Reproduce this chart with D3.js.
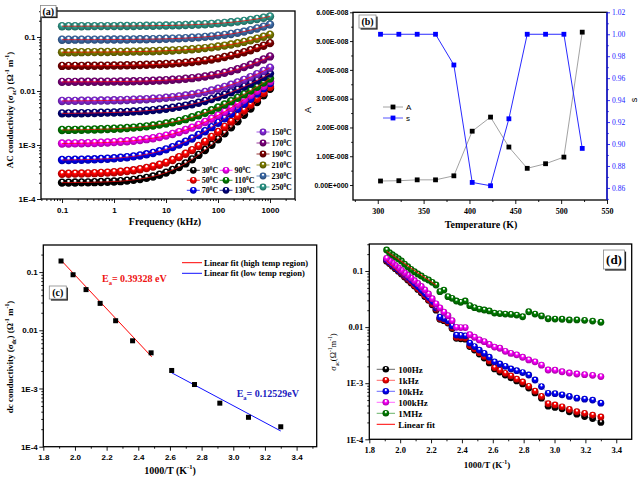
<!DOCTYPE html>
<html><head><meta charset="utf-8">
<script src="https://cdn.jsdelivr.net/npm/d3@7"></script>
<style>body{margin:0;background:#fff}svg{display:block}</style>
</head><body><svg id="c" width="640" height="480"></svg>
<script>
// ---------- Panel (a): AC conductivity vs frequency ----------
const freqKHz = [0.1,0.1334,0.1778,0.2371,0.3162,0.4217,0.5623,0.7499,1,1.334,1.778,2.371,3.162,4.217,5.623,7.499,10,13.34,17.78,23.71,31.62,42.17,56.23,74.99,100,133.4,177.8,237.1,316.2,421.7,562.3,749.9,1000];
const tempLabelsA = ["30","50","70","90","110","130","150","170","190","210","230","250"];
const sig30 = [2.01e-4,2.01e-4,2.02e-4,2.03e-4,2.03e-4,2.05e-4,2.06e-4,2.08e-4,2.11e-4,2.14e-4,2.19e-4,2.26e-4,2.34e-4,2.46e-4,2.61e-4,2.81e-4,3.08e-4,3.44e-4,3.92e-4,4.56e-4,5.42e-4,6.55e-4,8.07e-4,1.01e-3,1.28e-3,1.64e-3,2.12e-3,2.76e-3,3.62e-3,4.75e-3,6.27e-3,8.3e-3,1.10e-2];
const sig50 = [2.93e-4,2.94e-4,2.95e-4,2.96e-4,2.98e-4,3.01e-4,3.04e-4,3.08e-4,3.13e-4,3.20e-4,3.29e-4,3.40e-4,3.55e-4,3.74e-4,3.99e-4,4.31e-4,4.72e-4,5.26e-4,5.96e-4,6.87e-4,8.04e-4,9.56e-4,1.15e-3,1.41e-3,1.74e-3,2.17e-3,2.72e-3,3.44e-3,4.37e-3,5.58e-3,7.14e-3,9.17e-3,1.18e-2];
const sig70 = [5.27e-4,5.29e-4,5.32e-4,5.34e-4,5.38e-4,5.43e-4,5.49e-4,5.57e-4,5.67e-4,5.79e-4,5.95e-4,6.15e-4,6.41e-4,6.73e-4,7.13e-4,7.65e-4,8.30e-4,9.13e-4,1.02e-3,1.15e-3,1.32e-3,1.53e-3,1.80e-3,2.14e-3,2.57e-3,3.11e-3,3.80e-3,4.67e-3,5.78e-3,7.18e-3,8.95e-3,1.12e-2,1.40e-2];
const sig90 = [1.064e-3,1.067e-3,1.072e-3,1.077e-3,1.083e-3,1.091e-3,1.101e-3,1.113e-3,1.129e-3,1.148e-3,1.171e-3,1.200e-3,1.237e-3,1.282e-3,1.337e-3,1.407e-3,1.493e-3,1.599e-3,1.731e-3,1.895e-3,2.10e-3,2.35e-3,2.67e-3,3.06e-3,3.54e-3,4.14e-3,4.88e-3,5.81e-3,6.95e-3,8.38e-3,1.01e-2,1.23e-2,1.51e-2];
const sig110 = [1.896e-3,1.902e-3,1.909e-3,1.917e-3,1.928e-3,1.940e-3,1.956e-3,1.975e-3,1.998e-3,2.026e-3,2.060e-3,2.102e-3,2.153e-3,2.215e-3,2.291e-3,2.384e-3,2.50e-3,2.64e-3,2.80e-3,3.01e-3,3.26e-3,3.56e-3,3.94e-3,4.39e-3,4.95e-3,5.62e-3,6.45e-3,7.46e-3,8.68e-3,1.02e-2,1.20e-2,1.43e-2,1.70e-2];
const sig130 = [3.847e-3,3.857e-3,3.869e-3,3.883e-3,3.899e-3,3.919e-3,3.943e-3,3.972e-3,4.007e-3,4.049e-3,4.099e-3,4.160e-3,4.233e-3,4.320e-3,4.426e-3,4.552e-3,4.704e-3,4.89e-3,5.11e-3,5.37e-3,5.69e-3,6.07e-3,6.53e-3,7.07e-3,7.74e-3,8.54e-3,9.50e-3,1.064e-2,1.204e-2,1.37e-2,1.57e-2,1.81e-2,2.10e-2];
const sig150 = [6.547e-3,6.557e-3,6.569e-3,6.583e-3,6.60e-3,6.62e-3,6.65e-3,6.68e-3,6.72e-3,6.76e-3,6.81e-3,6.88e-3,6.96e-3,7.05e-3,7.17e-3,7.31e-3,7.48e-3,7.69e-3,7.93e-3,8.23e-3,8.60e-3,9.04e-3,9.57e-3,1.021e-2,1.098e-2,1.192e-2,1.306e-2,1.443e-2,1.609e-2,1.81e-2,2.05e-2,2.35e-2,2.70e-2];
const sig170 = [0.01475,0.01476,0.01477,0.01479,0.0148,0.01482,0.01486,0.01489,0.01493,0.01498,0.01504,0.01512,0.01522,0.01533,0.01548,0.01564,0.01586,0.01611,0.01641,0.01681,0.01728,0.01786,0.01857,0.01943,0.02049,0.02178,0.02336,0.02529,0.02765,0.03054,0.03408,0.03841,0.0437];
const sig190 = [0.02915,0.02917,0.02921,0.02925,0.0293,0.02936,0.02943,0.02952,0.02962,0.02974,0.02989,0.03006,0.03028,0.03053,0.03083,0.0312,0.03164,0.03216,0.03279,0.03354,0.03445,0.03553,0.03683,0.03838,0.04025,0.04249,0.04517,0.04838,0.05224,0.05686,0.0624,0.06904,0.077];
const sig210 = [0.05223,0.05227,0.05233,0.05239,0.05246,0.05255,0.05265,0.05277,0.05292,0.05309,0.0533,0.05354,0.05383,0.05418,0.05459,0.05508,0.05566,0.05635,0.05717,0.05814,0.0593,0.06068,0.06232,0.06426,0.06657,0.06932,0.07258,0.07646,0.08107,0.08655,0.09306,0.1008,0.110];
const sig230 = [0.08916,0.08919,0.08923,0.08928,0.08934,0.08941,0.0895,0.08961,0.08974,0.08991,0.09009,0.09033,0.09061,0.09096,0.09139,0.09191,0.09253,0.0933,0.09423,0.09536,0.09673,0.09841,0.1004,0.1029,0.1059,0.1095,0.114,0.1194,0.126,0.134,0.1438,0.1556,0.170];
const sig250 = [0.1583,0.1584,0.1584,0.1585,0.1587,0.1588,0.1589,0.1591,0.1593,0.1595,0.1598,0.1602,0.1606,0.1611,0.1617,0.1624,0.1632,0.1642,0.1653,0.1667,0.1683,0.1703,0.1726,0.1753,0.1786,0.1825,0.1871,0.1926,0.1991,0.2069,0.2161,0.227,0.240];
const seriesA = [sig30,sig50,sig70,sig90,sig110,sig130,sig150,sig170,sig190,sig210,sig230,sig250];
const colorsA = ["#000000","#ff0000","#0000ff","#ff00ff","#008000","#000080","#8a2be2","#800080","#800000","#808000","#4070b0","#30a090"];
const xTicksA = [0.1,1,10,100,1000];
const yTicksLog = [1e-4,1e-3,0.01,0.1];

// ---------- Panel (b): A and s vs temperature ----------
const tempB = [303,323,343,363,383,403,423,443,463,483,503,523];
const valA = [0.14e-8,0.15e-8,0.18e-8,0.18e-8,0.32e-8,1.87e-8,2.36e-8,1.32e-8,0.58e-8,0.74e-8,0.97e-8,5.31e-8];
const valS = [1.0,1.0,1.0,1.0,0.972,0.865,0.862,0.923,1.0,1.0,1.0,0.896];
const xTicksB = [300,350,400,450,500,550];
const yTicksBL = [0,1e-8,2e-8,3e-8,4e-8,5e-8,6e-8];
const yLabelsBL = ["0.00E+000","1.00E-008","2.00E-008","3.00E-008","4.00E-008","5.00E-008","6.00E-008"];
const yTicksBR = [0.86,0.88,0.90,0.92,0.94,0.96,0.98,1.00,1.02];

// ---------- Panel (c): dc conductivity vs 1000/T ----------
const invTc = [1.912,1.988,2.070,2.159,2.257,2.364,2.481,2.611,2.755,2.915,3.096,3.300];
const sigDC = [0.155,0.090,0.050,0.029,0.0146,0.0066,0.0041,0.00204,0.00117,0.00056,0.00032,0.00022];
const fitHighX = [1.912,2.485], fitHighY = [0.16,0.0035];
const fitLowX = [2.611,3.300], fitLowY = [0.00186,0.000186];
const xTicksCD = [1.8,2.0,2.2,2.4,2.6,2.8,3.0,3.2,3.4];

// ---------- Panel (d): sigma_ac vs 1000/T at fixed frequencies ----------
const tempD = [303,308,313,318,323,328,333,338,343,348,353,358,363,368,373,378,383,388,393,398,403,408,413,418,423,428,433,438,443,448,453,458,463,468,473,478,483,488,493,498,503,508,513,518,523];
const labelsD = ["100Hz","1kHz","10kHz","100kHz","1MHz"];
const s100Hz = [0.00020,0.000235,0.000255,0.00028,0.00031,0.00035,0.00037,0.00039,0.00054,0.00067,0.00082,0.00097,0.0011,0.00125,0.0014,0.00158,0.0018,0.0023,0.0028,0.0033,0.0039,0.0045,0.0061,0.0062,0.0063,0.0094,0.0118,0.0130,0.0138,0.020,0.025,0.030,0.035,0.041,0.047,0.054,0.061,0.069,0.078,0.088,0.099,0.110,0.122,0.136,0.150];
const s1kHz = [0.00025,0.00027,0.00029,0.00031,0.00034,0.00038,0.00041,0.00043,0.00058,0.00072,0.00088,0.00105,0.00118,0.00135,0.0015,0.0017,0.0019,0.0025,0.0030,0.0035,0.0041,0.0047,0.0064,0.0065,0.0066,0.0098,0.0122,0.0135,0.0142,0.021,0.026,0.031,0.037,0.043,0.049,0.056,0.064,0.072,0.081,0.091,0.102,0.114,0.126,0.140,0.155];
const s10kHz = [0.00044,0.00050,0.00052,0.00054,0.00058,0.00062,0.00065,0.00066,0.00087,0.00114,0.0014,0.00155,0.00167,0.0018,0.0020,0.0022,0.0024,0.0029,0.0034,0.0039,0.0045,0.0052,0.0070,0.0071,0.0072,0.0105,0.0130,0.0142,0.0150,0.022,0.028,0.033,0.039,0.045,0.052,0.059,0.067,0.075,0.084,0.094,0.105,0.118,0.130,0.145,0.160];
const s100kHz = [0.00131,0.00138,0.00142,0.00146,0.00152,0.0016,0.0017,0.00172,0.0021,0.0024,0.0026,0.0029,0.0032,0.0034,0.0037,0.0042,0.0044,0.0049,0.0055,0.0059,0.0066,0.0073,0.0098,0.0098,0.0099,0.0130,0.0160,0.0185,0.022,0.026,0.032,0.039,0.046,0.053,0.060,0.067,0.075,0.084,0.093,0.103,0.114,0.126,0.139,0.152,0.168];
const s1MHz = [0.0122,0.0128,0.0132,0.0134,0.0134,0.0138,0.0139,0.0141,0.0158,0.0171,0.0188,0.0153,0.0164,0.0168,0.0171,0.0174,0.0178,0.0194,0.0202,0.0210,0.0222,0.0241,0.0292,0.0277,0.0292,0.0326,0.0348,0.0458,0.0428,0.0563,0.0629,0.0692,0.0741,0.0815,0.0885,0.0973,0.107,0.119,0.133,0.151,0.166,0.180,0.195,0.212,0.237];
const seriesD = [s100Hz,s1kHz,s10kHz,s100kHz,s1MHz];
const colorsD = ["#000000","#ff0000","#0000ff","#ff00ff","#008000"];
const fitD1X = [1.912,2.232], fitD1Y = [0.225,0.056];
const fitD2X = [1.912,2.245], fitD2Y = [0.155,0.019];

// ================= drawing =================
const SERIF = "'Liberation Serif','Times New Roman',serif";
const SANS = "'Liberation Sans',Arial,sans-serif";
const svg = d3.select('#c');
svg.append('rect').attr('width',640).attr('height',480).attr('fill','#fff');
const defs = svg.append('defs');
function grad(color){
  const id = 'g' + color.replace('#','');
  if (defs.select('#'+id).empty()){
    const g = defs.append('radialGradient').attr('id',id).attr('cx','50%').attr('cy','50%').attr('r','52%').attr('fx','50%').attr('fy','24%');
    g.append('stop').attr('offset','0%').attr('stop-color','#ffffff');
    g.append('stop').attr('offset','16%').attr('stop-color','#ffffff').attr('stop-opacity',0.95);
    g.append('stop').attr('offset','42%').attr('stop-color',color);
    g.append('stop').attr('offset','100%').attr('stop-color',d3.color(color).darker(1.3).formatHex());
  }
  return 'url(#'+id+')';
}
function rich(sel, parts, fs){
  let shift = 0;
  parts.forEach(([t,k])=>{
    const target = k==='sub' ? fs*0.3 : (k==='sup' ? -fs*0.42 : 0);
    sel.append('tspan').text(t).attr('dy', target-shift).attr('font-size', k==='n'? fs : fs*0.65);
    shift = target;
  });
}
function title(x,y,parts,fs,opts={}){
  const t = svg.append('text').attr('x',x).attr('y',y).attr('text-anchor',opts.anchor||'middle')
    .attr('font-family',opts.font||SERIF).attr('font-weight',opts.weight||'bold').attr('fill',opts.color||'#000');
  if (opts.rotate) t.attr('transform',`rotate(-90,${x},${y})`);
  rich(t, parts, fs);
  return t;
}
function axis(gen, tr, font, fs, color){
  const a = svg.append('g').attr('transform',tr).call(gen);
  a.select('.domain').remove();
  a.attr('font-family',null).attr('font-size',null);
  a.selectAll('text').attr('font-family',font).attr('font-size',fs).attr('font-weight','bold').attr('fill',color||'#000');
  a.selectAll('line').attr('stroke',color||'#000').attr('stroke-width',0.9);
  return a;
}
function logMinor(domain){
  const out=[]; for(let e=-6;e<=4;e++){ for(let m=2;m<=9;m++){ const v=m*Math.pow(10,e); if(v>domain[0]&&v<domain[1]) out.push(v);} } return out;
}
const fmtLog = v => v>=0.01 ? (v>=0.1 ? "0.1" : "0.01") : ("1E" + Math.round(Math.log10(v)));
function frame(x0,y0,x1,y1){
  svg.append('rect').attr('x',x0).attr('y',y0).attr('width',x1-x0).attr('height',y1-y0).attr('fill','none').attr('stroke','#000').attr('stroke-width',1.3);
}
function plabel(x,y,w,h,text,fs){
  svg.append('rect').attr('x',x+1.6).attr('y',y+1.6).attr('width',w).attr('height',h).attr('fill','#222');
  svg.append('rect').attr('x',x).attr('y',y).attr('width',w).attr('height',h).attr('fill','#fff').attr('stroke','#888').attr('stroke-width',0.8);
  svg.append('text').attr('x',x+w/2).attr('y',y+h/2+fs*0.35).attr('text-anchor','middle').attr('font-family',SERIF).attr('font-weight','bold').attr('font-size',fs).text(text);
}
function sphere(g,x,y,r,color){
  g.append('circle').attr('cx',x).attr('cy',y).attr('r',r).attr('fill',grad(color));
}

// ----- Panel (a) -----
{
  const x = d3.scaleLog().domain([0.0394,3027]).range([41,295]);
  const y = d3.scaleLog().domain([1e-4,0.303]).range([199,11]);
  const g = svg.append('g');
  const line = d3.line().x(d=>x(d[0])).y(d=>y(d[1]));
  seriesA.forEach((s,i)=>{
    const pts = freqKHz.map((f,j)=>[f,s[j]]).filter(p=>p[1]!=null);
    const gs = g.append('g');
    gs.selectAll('circle').data(pts).join('circle').attr('cx',d=>x(d[0])).attr('cy',d=>y(d[1])).attr('r',4.2).attr('fill',grad(colorsA[i]));
    gs.append('path').attr('d',line(pts)).attr('fill','none').attr('stroke','#ff0000').attr('stroke-width',0.7);
  });
  axis(d3.axisBottom(x).tickValues(xTicksA).tickSize(4).tickPadding(4).tickFormat(d=>String(d)),'translate(0,199)',SANS,8);
  axis(d3.axisBottom(x).tickValues(logMinor(x.domain())).tickSize(2).tickFormat(''),'translate(0,199)',SANS,8);
  axis(d3.axisLeft(y).tickValues(yTicksLog).tickSize(4).tickPadding(1.5).tickFormat(fmtLog),'translate(41,0)',SANS,8);
  axis(d3.axisLeft(y).tickValues(logMinor(y.domain())).tickSize(2).tickFormat(''),'translate(41,0)',SANS,8);
  frame(41,11,295,199);
  title(165,225,[["Frequency (kHz)","n"]],10);
  title(13,110,[["AC conductivity (σ","n"],["ac","sub"],[") (Ω","n"],["-1","sup"],[" m","n"],["-1","sup"],[")","n"]],9,{rotate:true});
  // legend
  const lg = svg.append('g');
  const entries = tempLabelsA.map((t,i)=>{
    let lx, ly;
    if (i<3){ lx=193.3; ly=170.3+i*10; } else if (i<6){ lx=226; ly=170.3+(i-3)*10; } else { lx=263; ly=132+(i-6)*11; }
    return {t, lx, ly, c: colorsA[i]};
  });
  entries.forEach(e=>{
    lg.append('line').attr('x1',e.lx-6.5).attr('x2',e.lx+6.5).attr('y1',e.ly).attr('y2',e.ly).attr('stroke',e.c).attr('stroke-width',0.8);
    sphere(lg,e.lx,e.ly,3.4,e.c);
    const tx = lg.append('text').attr('x',e.lx+8.5).attr('y',e.ly+3).attr('font-family',SERIF).attr('font-weight','bold');
    rich(tx,[[e.t,'n'],['0','sup'],['C','n']],8);
  });
  plabel(40.5,5.5,15.5,11,"(a)",10);
}

// ----- Panel (b) -----
{
  const x = d3.scaleLinear().domain([273,550]).range([353,607]);
  const yl = d3.scaleLinear().domain([-0.52e-8,6e-8]).range([200,12.3]);
  const yr = d3.scaleLinear().domain([0.849,1.02]).range([200,12.3]);
  const la = d3.line().x((d,i)=>x(tempB[i])).y(d=>yl(d));
  const ls = d3.line().x((d,i)=>x(tempB[i])).y(d=>yr(d));
  svg.append('path').attr('d',la(valA)).attr('fill','none').attr('stroke','#8a8a8a').attr('stroke-width',0.8);
  svg.append('path').attr('d',ls(valS)).attr('fill','none').attr('stroke','#2a2aff').attr('stroke-width',1);
  svg.append('g').selectAll('rect').data(valA).join('rect').attr('x',(d,i)=>x(tempB[i])-2.4).attr('y',d=>yl(d)-2.4).attr('width',4.8).attr('height',4.8).attr('fill','#000');
  svg.append('g').selectAll('rect').data(valS).join('rect').attr('x',(d,i)=>x(tempB[i])-2.4).attr('y',d=>yr(d)-2.4).attr('width',4.8).attr('height',4.8).attr('fill','#0000ff');
  axis(d3.axisBottom(x).tickValues(xTicksB).tickSize(4).tickPadding(4),'translate(0,200)',SERIF,8);
  axis(d3.axisBottom(x).tickValues([275,325,375,425,475,525]).tickSize(2).tickFormat(''),'translate(0,200)',SERIF,8);
  axis(d3.axisLeft(yl).tickValues(yTicksBL).tickSize(3).tickPadding(1.5).tickFormat((d,i)=>yLabelsBL[i]),'translate(353,0)',SANS,7);
  axis(d3.axisLeft(yl).tickValues([0.5e-8,1.5e-8,2.5e-8,3.5e-8,4.5e-8,5.5e-8]).tickSize(1.8).tickFormat(''),'translate(353,0)',SANS,7);
  const ra = axis(d3.axisRight(yr).tickValues(yTicksBR).tickSize(3).tickPadding(2).tickFormat(d3.format('.2f')),'translate(607,0)',SERIF,7.5,'#1a1aff');
  ra.selectAll('text').attr('font-weight','normal');
  axis(d3.axisRight(yr).tickValues([0.85,0.87,0.89,0.91,0.93,0.95,0.97,0.99,1.01]).tickSize(1.8).tickFormat(''),'translate(607,0)',SERIF,7,'#1a1aff');
  frame(353,12.3,607,200);
  svg.append('line').attr('x1',607).attr('x2',607).attr('y1',12.3).attr('y2',200).attr('stroke','#1a1aff').attr('stroke-width',1.3);
  title(481,227.5,[["Temperature (K)","n"]],10);
  title(311,110,[["A","n"]],9,{rotate:true,font:SANS,weight:'normal'});
  title(637,100,[["s","n"]],9,{rotate:true,font:SANS,weight:'normal'});
  // legend
  [["A","#8a8a8a","#000",107],["s","#2a2aff","#0000ff",118]].forEach(([t,lc,mc,ly])=>{
    svg.append('line').attr('x1',383).attr('x2',403).attr('y1',ly).attr('y2',ly).attr('stroke',lc).attr('stroke-width',0.8);
    svg.append('rect').attr('x',393-2.4).attr('y',ly-2.4).attr('width',4.8).attr('height',4.8).attr('fill',mc);
    svg.append('text').attr('x',406).attr('y',ly+3).attr('font-family',SANS).attr('font-size',8).text(t);
  });
  plabel(359,15,17,13,"(b)",10);
}

// ----- Panel (c) -----
{
  const x = d3.scaleLinear().domain([1.8,3.527]).range([43.3,316.7]);
  const y = d3.scaleLog().domain([1e-4,0.292]).range([446.7,245]);
  const ln = d3.line().x(d=>x(d[0])).y(d=>y(d[1]));
  svg.append('path').attr('d',ln(fitHighX.map((v,i)=>[v,fitHighY[i]]))).attr('stroke','#ff0000').attr('stroke-width',1).attr('fill','none');
  svg.append('path').attr('d',ln(fitLowX.map((v,i)=>[v,fitLowY[i]]))).attr('stroke','#1010ff').attr('stroke-width',1).attr('fill','none');
  svg.append('g').selectAll('rect').data(sigDC).join('rect').attr('x',(d,i)=>x(invTc[i])-2.5).attr('y',d=>y(d)-2.5).attr('width',5).attr('height',5).attr('fill','#000');
  axis(d3.axisBottom(x).tickValues(xTicksCD).tickSize(4).tickPadding(4).tickFormat(d3.format('.1f')),'translate(0,446.7)',SANS,8);
  axis(d3.axisBottom(x).tickValues([1.9,2.1,2.3,2.5,2.7,2.9,3.1,3.3,3.5]).tickSize(2).tickFormat(''),'translate(0,446.7)',SANS,8);
  axis(d3.axisLeft(y).tickValues(yTicksLog).tickSize(4).tickPadding(1.5).tickFormat(fmtLog),'translate(43.3,0)',SANS,8);
  axis(d3.axisLeft(y).tickValues(logMinor(y.domain())).tickSize(2).tickFormat(''),'translate(43.3,0)',SANS,8);
  frame(43.3,245,316.7,446.7);
  title(170,473.5,[["1000/T (K","n"],["-1","sup"],[")","n"]],10);
  title(13,357,[["dc conductivity (σ","n"],["dc","sub"],[") (Ω","n"],["-1","sup"],[" m","n"],["-1","sup"],[")","n"]],9,{rotate:true});
  title(102,281.7,[["E","n"],["a","sub"],["= 0.39328 eV","n"]],10,{anchor:'start',color:'#ee1111'});
  title(236.7,396.7,[["E","n"],["a","sub"],["= 0.12529eV","n"]],10,{anchor:'start',color:'#2020c0'});
  [["Linear fit (high temp region)","#ff0000",262.7],["Linear fit (low temp region)","#1010ff",273.3]].forEach(([t,c,ly])=>{
    svg.append('line').attr('x1',182).attr('x2',202).attr('y1',ly).attr('y2',ly).attr('stroke',c).attr('stroke-width',1);
    svg.append('text').attr('x',204).attr('y',ly+3).attr('font-family',SERIF).attr('font-weight','bold').attr('font-size',8.5).text(t);
  });
  plabel(49.3,286,17,13,"(c)",10);
}

// ----- Panel (d) -----
{
  const x = d3.scaleLinear().domain([1.8,3.5]).range([369.3,631.7]);
  const y = d3.scaleLog().domain([1e-4,0.303]).range([439.3,244]);
  const ln = d3.line().x(d=>x(d[0])).y(d=>y(d[1]));
  seriesD.forEach((s,i)=>{
    const pts = tempD.map((T,j)=>[1000/T, s[j]]);
    svg.append('path').attr('d',ln(pts)).attr('fill','none').attr('stroke',colorsD[i]).attr('stroke-width',0.5).attr('opacity',0.7);
    svg.append('g').selectAll('circle').data(pts).join('circle').attr('cx',d=>x(d[0])).attr('cy',d=>y(d[1])).attr('r',3.4).attr('fill',grad(colorsD[i]));
  });
  svg.append('path').attr('d',ln(fitD1X.map((v,i)=>[v,fitD1Y[i]]))).attr('stroke','#ff0000').attr('stroke-width',0.9).attr('fill','none');
  svg.append('path').attr('d',ln(fitD2X.map((v,i)=>[v,fitD2Y[i]]))).attr('stroke','#ff0000').attr('stroke-width',0.9).attr('fill','none');
  axis(d3.axisBottom(x).tickValues(xTicksCD).tickSize(4).tickPadding(3.5).tickFormat(d3.format('.1f')),'translate(0,439.3)',SERIF,8.5);
  axis(d3.axisBottom(x).tickValues([1.9,2.1,2.3,2.5,2.7,2.9,3.1,3.3]).tickSize(2).tickFormat(''),'translate(0,439.3)',SERIF,8.5);
  axis(d3.axisLeft(y).tickValues(yTicksLog).tickSize(4).tickPadding(2).tickFormat(fmtLog),'translate(369.3,0)',SERIF,8.5);
  axis(d3.axisLeft(y).tickValues(logMinor(y.domain())).tickSize(2).tickFormat(''),'translate(369.3,0)',SERIF,8.5);
  frame(369.3,244,631.7,439.3);
  title(487,467.5,[["1000/T (K","n"],["-1","sup"],[")","n"]],9);
  title(336,352,[["σ","n"],["ac","sub"],["(Ω","n"],["-1","sup"],["m","n"],["-1","sup"],[")","n"]],8.5,{rotate:true,weight:'normal'});
  labelsD.forEach((t,i)=>{
    const ly = 369.3 + i*11;
    svg.append('line').attr('x1',376.7).attr('x2',395).attr('y1',ly).attr('y2',ly).attr('stroke',colorsD[i]).attr('stroke-width',0.6);
    sphere(svg,385.8,ly,3.3,colorsD[i]);
    svg.append('text').attr('x',398.3).attr('y',ly+3.2).attr('font-family',SERIF).attr('font-weight','bold').attr('font-size',9).text(t);
  });
  svg.append('line').attr('x1',376.7).attr('x2',395).attr('y1',424.3).attr('y2',424.3).attr('stroke','#ff0000').attr('stroke-width',1);
  svg.append('text').attr('x',398.3).attr('y',427.5).attr('font-family',SERIF).attr('font-weight','bold').attr('font-size',9).text("Linear fit");
  plabel(603.5,250,21,19,"(d)",13);
}
</script></body></html>
